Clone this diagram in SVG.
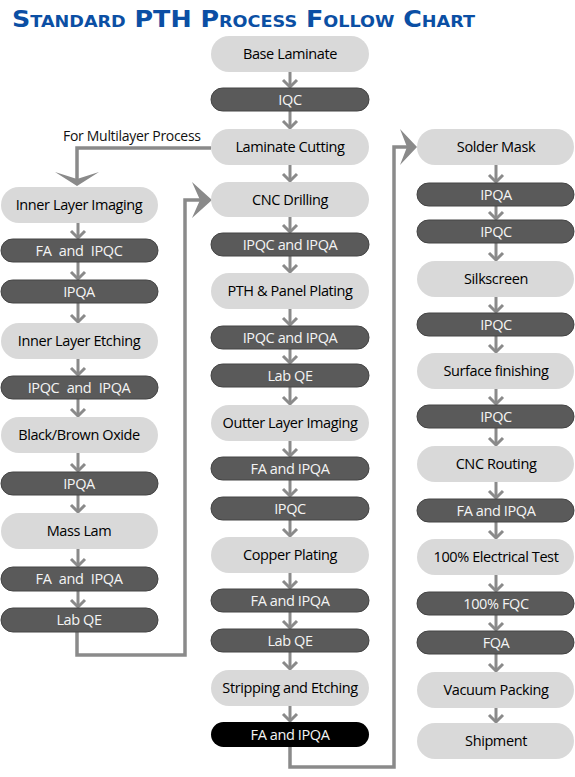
<svg xmlns="http://www.w3.org/2000/svg" width="575" height="777" viewBox="0 0 575 777">
<defs>
<style>
.bg{fill:#ffffff}
.title{font-family:"DejaVu Sans",sans-serif;font-weight:bold;font-variant:small-caps;font-size:23px;fill:#0b4fa4}
.lt rect{fill:#d9d9d9}
.dk rect{fill:#5a5a5a;stroke:#444444;stroke-width:1}
.bk rect{fill:#000000}
text.t{font-family:"Open Sans","Noto Sans",sans-serif;font-size:14.5px;text-anchor:middle;letter-spacing:-0.4px}
.lt text{fill:#000000}
.dk text,.bk text{fill:#f4f4f4}
.ws{word-spacing:4px}
.sh{stroke:#8a8a8a;stroke-width:3;fill:none}
.hd{fill:#8a8a8a}
.big{stroke:#8a8a8a;stroke-width:3.5;fill:none}
.lbl{font-family:"Open Sans","Noto Sans",sans-serif;font-size:14px;fill:#111111;letter-spacing:-0.3px}
</style>
<g id="sa"><path class="sh" d="M0,-7 V-2"/><path class="sh" d="M-7,-8 L0,-1 L7,-8"/></g>
</defs>
<rect class="bg" x="0" y="0" width="575" height="777"/>
<text class="title" x="12" y="27" textLength="463" lengthAdjust="spacingAndGlyphs">Standard PTH Process Follow Chart</text>

<g id="connectors">
<use href="#sa" x="290" y="88"/>
<use href="#sa" x="290" y="129"/>
<use href="#sa" x="290" y="182"/>
<use href="#sa" x="290" y="233"/>
<use href="#sa" x="290" y="273"/>
<use href="#sa" x="290" y="326"/>
<use href="#sa" x="290" y="364"/>
<use href="#sa" x="290" y="405"/>
<use href="#sa" x="290" y="457"/>
<use href="#sa" x="290" y="497"/>
<use href="#sa" x="290" y="537"/>
<use href="#sa" x="290" y="589"/>
<use href="#sa" x="290" y="629"/>
<use href="#sa" x="290" y="670"/>
<use href="#sa" x="290" y="722"/>
<path class="sh" d="M290,72 V81 M290,111 V122 M290,165 V175 M290,217 V226 M290,256 V266 M290,309 V319 M290,349 V357 M290,387 V398 M290,441 V450 M290,480 V490 M290,520 V530 M290,573 V582 M290,612 V622 M290,652 V663 M290,706 V715"/>
<use href="#sa" x="496" y="183"/>
<use href="#sa" x="496" y="220"/>
<use href="#sa" x="496" y="261"/>
<use href="#sa" x="496" y="313"/>
<use href="#sa" x="496" y="353"/>
<use href="#sa" x="496" y="405"/>
<use href="#sa" x="496" y="446"/>
<use href="#sa" x="496" y="499"/>
<use href="#sa" x="496" y="539"/>
<use href="#sa" x="496" y="592"/>
<use href="#sa" x="496" y="631"/>
<use href="#sa" x="496" y="672"/>
<use href="#sa" x="496" y="723"/>
<path class="sh" d="M496,165 V176 M496,206 V213 M496,243 V254 M496,297 V306 M496,336 V346 M496,389 V398 M496,428 V439 M496,482 V492 M496,522 V532 M496,575 V585 M496,615 V624 M496,654 V665 M496,708 V716"/>
<use href="#sa" x="78" y="239"/>
<use href="#sa" x="78" y="280"/>
<use href="#sa" x="78" y="323"/>
<use href="#sa" x="78" y="376"/>
<use href="#sa" x="78" y="417"/>
<use href="#sa" x="78" y="472"/>
<use href="#sa" x="78" y="513"/>
<use href="#sa" x="78" y="567"/>
<use href="#sa" x="78" y="608"/>
<path class="sh" d="M78,223 V232 M78,262 V273 M78,303 V316 M78,359 V369 M78,399 V410 M78,453 V465 M78,495 V506 M78,549 V560 M78,591 V601"/>
<path class="big" d="M211,148 H77 V179"/>
<polygon class="hd" points="77,186 55,172 77,179 99,172"/>
<path class="big" d="M77,632 V655 H185 V200 H204"/>
<polygon class="hd" points="212,200 192,182 200,200 192,218"/>
<path class="big" d="M290,747 V767 H394 V147 H409"/>
<polygon class="hd" points="417,147 400,129 407,147 400,165"/>
<text class="lbl" x="63" y="141">For Multilayer Process</text>
</g>

<g id="m1" class="lt"><rect x="211" y="36" width="158" height="36" rx="18"/><text class="t" x="290" y="59">Base Laminate</text></g>
<g id="m2" class="dk"><rect x="211" y="88" width="158" height="23" rx="11.5"/><text class="t" x="290" y="104.5">IQC</text></g>
<g id="m3" class="lt"><rect x="211" y="129" width="158" height="36" rx="18"/><text class="t" x="290" y="152">Laminate Cutting</text></g>
<g id="m4" class="lt"><rect x="211" y="182" width="158" height="35" rx="17.5"/><text class="t" x="290" y="204.5">CNC Drilling</text></g>
<g id="m5" class="dk"><rect x="211" y="233" width="158" height="23" rx="11.5"/><text class="t" x="290" y="249.5">IPQC and IPQA</text></g>
<g id="m6" class="lt"><rect x="211" y="273" width="158" height="36" rx="18"/><text class="t" x="290" y="296">PTH &amp; Panel Plating</text></g>
<g id="m7" class="dk"><rect x="211" y="326" width="158" height="23" rx="11.5"/><text class="t" x="290" y="342.5">IPQC and IPQA</text></g>
<g id="m8" class="dk"><rect x="211" y="364" width="158" height="23" rx="11.5"/><text class="t" x="290" y="380.5">Lab QE</text></g>
<g id="m9" class="lt"><rect x="211" y="405" width="158" height="36" rx="18"/><text class="t" x="290" y="428">Outter Layer Imaging</text></g>
<g id="m10" class="dk"><rect x="211" y="457" width="158" height="23" rx="11.5"/><text class="t" x="290" y="473.5">FA and IPQA</text></g>
<g id="m11" class="dk"><rect x="211" y="497" width="158" height="23" rx="11.5"/><text class="t" x="290" y="513.5">IPQC</text></g>
<g id="m12" class="lt"><rect x="211" y="537" width="158" height="36" rx="18"/><text class="t" x="290" y="560">Copper Plating</text></g>
<g id="m13" class="dk"><rect x="211" y="589" width="158" height="23" rx="11.5"/><text class="t" x="290" y="605.5">FA and IPQA</text></g>
<g id="m14" class="dk"><rect x="211" y="629" width="158" height="23" rx="11.5"/><text class="t" x="290" y="645.5">Lab QE</text></g>
<g id="m15" class="lt"><rect x="211" y="670" width="158" height="36" rx="18"/><text class="t" x="290" y="693">Stripping and Etching</text></g>
<g id="m16" class="bk"><rect x="211" y="722" width="158" height="25" rx="12.5"/><text class="t" x="290" y="739.5">FA and IPQA</text></g>

<g id="r1" class="lt"><rect x="417" y="129" width="157" height="36" rx="18"/><text class="t" x="496" y="152">Solder Mask</text></g>
<g id="r2" class="dk"><rect x="417" y="183" width="157" height="23" rx="11.5"/><text class="t" x="496" y="199.5">IPQA</text></g>
<g id="r3" class="dk"><rect x="417" y="220" width="157" height="23" rx="11.5"/><text class="t" x="496" y="236.5">IPQC</text></g>
<g id="r4" class="lt"><rect x="417" y="261" width="157" height="36" rx="18"/><text class="t" x="496" y="284">Silkscreen</text></g>
<g id="r5" class="dk"><rect x="417" y="313" width="157" height="23" rx="11.5"/><text class="t" x="496" y="329.5">IPQC</text></g>
<g id="r6" class="lt"><rect x="417" y="353" width="157" height="36" rx="18"/><text class="t" x="496" y="376">Surface finishing</text></g>
<g id="r7" class="dk"><rect x="417" y="405" width="157" height="23" rx="11.5"/><text class="t" x="496" y="421.5">IPQC</text></g>
<g id="r8" class="lt"><rect x="417" y="446" width="157" height="36" rx="18"/><text class="t" x="496" y="469">CNC Routing</text></g>
<g id="r9" class="dk"><rect x="417" y="499" width="157" height="23" rx="11.5"/><text class="t" x="496" y="515.5">FA and IPQA</text></g>
<g id="r10" class="lt"><rect x="417" y="539" width="157" height="36" rx="18"/><text class="t" x="496" y="562">100% Electrical Test</text></g>
<g id="r11" class="dk"><rect x="417" y="592" width="157" height="23" rx="11.5"/><text class="t" x="496" y="608.5">100% FQC</text></g>
<g id="r12" class="dk"><rect x="417" y="631" width="157" height="23" rx="11.5"/><text class="t" x="496" y="647.5">FQA</text></g>
<g id="r13" class="lt"><rect x="417" y="672" width="157" height="36" rx="18"/><text class="t" x="496" y="695">Vacuum Packing</text></g>
<g id="r14" class="lt"><rect x="417" y="723" width="157" height="36" rx="18"/><text class="t" x="496" y="746">Shipment</text></g>

<g id="l1" class="lt"><rect x="1" y="187" width="157" height="36" rx="18"/><text class="t" x="79" y="210">Inner Layer Imaging</text></g>
<g id="l2" class="dk"><rect x="1" y="239" width="157" height="23" rx="11.5"/><text class="t ws" x="79" y="255.5">FA and IPQC</text></g>
<g id="l3" class="dk"><rect x="1" y="280" width="157" height="23" rx="11.5"/><text class="t" x="79" y="296.5">IPQA</text></g>
<g id="l4" class="lt"><rect x="1" y="323" width="157" height="36" rx="18"/><text class="t" x="79" y="346">Inner Layer Etching</text></g>
<g id="l5" class="dk"><rect x="1" y="376" width="157" height="23" rx="11.5"/><text class="t ws" x="79" y="392.5">IPQC and IPQA</text></g>
<g id="l6" class="lt"><rect x="1" y="417" width="157" height="36" rx="18"/><text class="t" x="79" y="440">Black/Brown Oxide</text></g>
<g id="l7" class="dk"><rect x="1" y="472" width="157" height="23" rx="11.5"/><text class="t" x="79" y="488.5">IPQA</text></g>
<g id="l8" class="lt"><rect x="1" y="513" width="157" height="36" rx="18"/><text class="t" x="79" y="536">Mass Lam</text></g>
<g id="l9" class="dk"><rect x="1" y="567" width="157" height="24" rx="12"/><text class="t ws" x="79" y="584">FA and IPQA</text></g>
<g id="l10" class="dk"><rect x="1" y="608" width="157" height="24" rx="12"/><text class="t" x="79" y="625">Lab QE</text></g>
</svg>
